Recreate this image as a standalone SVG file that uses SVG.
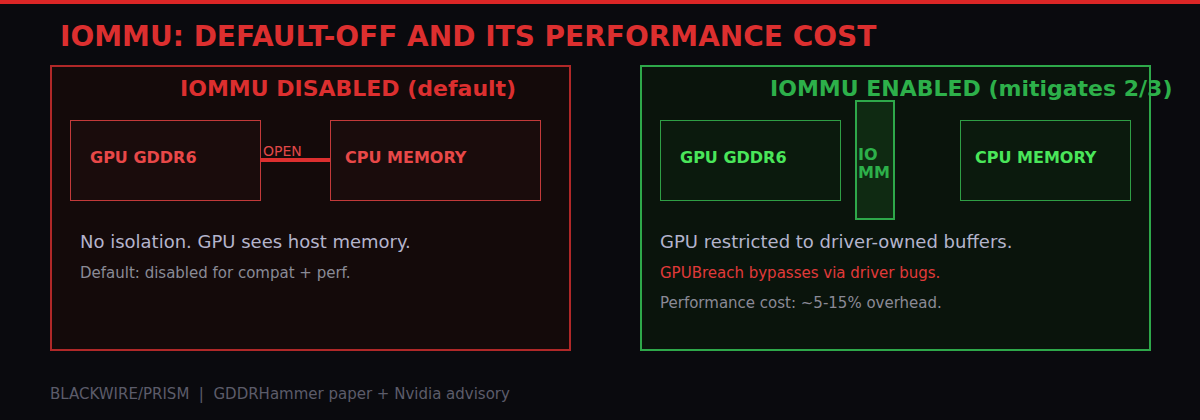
<svg xmlns="http://www.w3.org/2000/svg" width="1200" height="420" viewBox="0 0 1200 420">
<style>
text{font-family:'DejaVu Sans',sans-serif}
.red{fill:#dc2f2f}
.grn{fill:#2db04a}
.panelR{fill:#140a0a;stroke:#b02828;stroke-width:2}
.panelG{fill:#0a140c;stroke:#2ea84a;stroke-width:2}
.boxR{fill:#1a0c0c;stroke:#c23a3a;stroke-width:1}
.boxG{fill:#0b1a0d;stroke:#2f9e45;stroke-width:1}
.lblR{fill:#e84848;font-size:16px;font-weight:bold}
.lblG{fill:#4ae65a;font-size:16px;font-weight:bold}
.ptitle{font-size:22px;font-weight:bold}
.main{fill:#b4b4cc;font-size:18px}
.sub{fill:#8a8a96;font-size:15px}
</style>
<rect width="1200" height="420" fill="#0a0a0e"/>
<rect x="0" y="0" width="1200" height="4" fill="#dc2626"/>
<text x="60" y="46" class="red" font-size="28" font-weight="bold">IOMMU: DEFAULT-OFF AND ITS PERFORMANCE COST</text>

<g id="panel-disabled">
<rect x="51" y="66" width="519" height="284" class="panelR"/>
<text x="180" y="96" class="red ptitle">IOMMU DISABLED (default)</text>
<text x="80" y="248" class="main">No isolation. GPU sees host memory.</text>
<text x="80" y="278" class="sub">Default: disabled for compat + perf.</text>
</g>
<g id="gpu-left">
<rect x="70.5" y="120.5" width="190" height="80" class="boxR"/>
<text x="90" y="163" class="lblR">GPU GDDR6</text>
</g>
<g id="cpu-left">
<rect x="330.5" y="120.5" width="210" height="80" class="boxR"/>
<text x="345" y="163" class="lblR">CPU MEMORY</text>
</g>

<g id="panel-enabled">
<rect x="641" y="66" width="509" height="284" class="panelG"/>
<text x="770" y="96" class="grn ptitle">IOMMU ENABLED (mitigates 2/3)</text>
<text x="660" y="248" class="main">GPU restricted to driver-owned buffers.</text>
<text x="660" y="278" fill="#e03a3a" font-size="15">GPUBreach bypasses via driver bugs.</text>
<text x="660" y="308" class="sub">Performance cost: ~5-15% overhead.</text>
</g>
<g id="gpu-right">
<rect x="660.5" y="120.5" width="180" height="80" class="boxG"/>
<text x="680" y="163" class="lblG">GPU GDDR6</text>
</g>
<g id="iommu">
<rect x="856" y="101" width="38" height="118" fill="#0f2a12" stroke="#2ea84a" stroke-width="2"/>
<text x="858" y="160" class="grn" font-size="16" font-weight="bold">IO</text>
<text x="858" y="178" class="grn" font-size="16" font-weight="bold">MM</text>
</g>
<g id="cpu-right">
<rect x="960.5" y="120.5" width="170" height="80" class="boxG"/>
<text x="975" y="163" class="lblG">CPU MEMORY</text>
</g>

<g id="connectors">
<line x1="260" y1="160" x2="330" y2="160" stroke="#dc2f2f" stroke-width="4"/>
<text x="263" y="156" fill="#e04848" font-size="14">OPEN</text>
</g>

<text x="50" y="399" fill="#5c5c6a" font-size="15" xml:space="preserve">BLACKWIRE/PRISM  |  GDDRHammer paper + Nvidia advisory</text>
</svg>
